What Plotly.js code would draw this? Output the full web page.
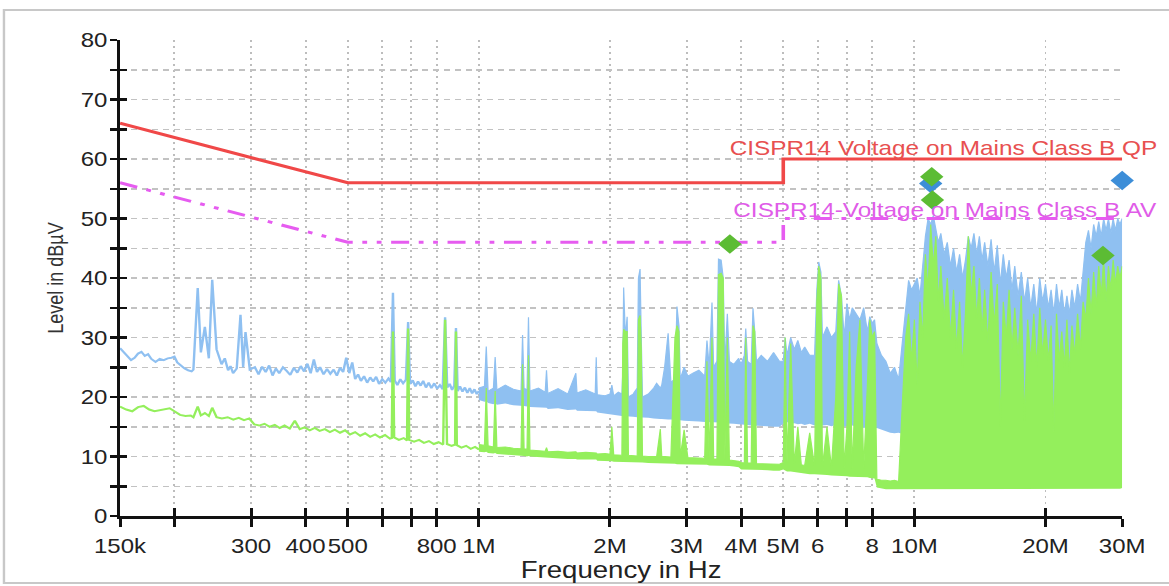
<!DOCTYPE html>
<html><head><meta charset="utf-8">
<script src="https://cdn.plot.ly/plotly-3.0.1.min.js"></script>
<style>
html,body{margin:0;padding:0;background:#fff;overflow:hidden;width:1169px;height:586px}
#wrap{width:974px;height:586px;transform:scaleX(1.2002);transform-origin:0 0}
#chart{width:974px;height:586px}
</style></head>
<body><div id="wrap"><div id="chart"></div></div>
<script>
// ---- axis ticks (frequency in MHz) ----
const xTickVals = [0.15,0.2,0.3,0.4,0.5,0.6,0.7,0.8,1,2,3,4,5,6,7,8,10,20,30];
const xTickText = ['150k','','300','400','500','','','800','1M','2M','3M','4M','5M','6','','8','10M','20M','30M'];
const yTickVals = [0,5,10,15,20,25,30,35,40,45,50,55,60,65,70,75,80];
const yTickText = ['0','','10','','20','','30','','40','','50','','60','','70','','80'];

// ---- limit lines ----
const qpLimitF = [0.15, 0.5, 5, 5, 30];
const qpLimitV = [66, 56, 56, 60, 60];
const avLimitF = [0.15, 0.5, 5, 5, 30];
const avLimitV = [56, 46, 46, 50, 50];

// ---- low band spectrum (150 kHz - 1 MHz), MHz / dBuV ----
const blueLineF = [0.150,0.153,0.156,0.159,0.162,0.165,0.168,0.171,0.174,0.177,
0.181,0.185,0.189,0.193,0.197,0.200,0.203,0.207,0.211,0.215,
0.219,0.2211,0.2262,0.2300,0.2349,0.2399,0.2442,0.2499,0.2566,0.2610,
0.2656,0.2690,0.2727,0.2780,0.2836,0.2876,0.2912,0.2979,0.3060,0.312,
0.318,0.324,0.330,0.336,0.342,0.348,0.355,0.362,0.369,0.376,
0.383,0.390,0.397,0.404,0.411,0.418,0.425,0.432,0.440,0.448,
0.456,0.464,0.472,0.480,0.488,0.496,0.504,0.512,0.520,0.528,
0.536,0.545,0.554,0.563,0.572,0.581,0.590,0.600,0.610,0.620,
0.628,0.635,0.641,0.650,0.660,0.670,0.680,0.688,0.695,0.705,
0.715,0.725,0.735,0.745,0.756,0.767,0.778,0.790,0.802,0.814,
0.826,0.8365,0.846,0.857,0.868,0.878,0.886,0.894,0.905,0.917,
0.929,0.941,0.953,0.965,0.977,0.989,1.000];
const blueLineV = [28.2,27.5,26.8,26.2,26.6,27.3,27.6,26.9,27.2,26.4,
25.9,26.4,26.2,26.5,26.6,26.8,25.8,25.2,24.8,24.5,
24.3,24.6,38.3,27.5,31.8,26.5,39.7,28.0,25.5,26.5,
24.5,25.2,24.0,24.8,33.8,25.0,30.9,24.6,25.0,23.8,
25.1,24.2,25.3,23.6,24.8,24.0,25.0,24.4,23.7,24.9,
24.1,25.2,24.3,25.6,24.0,26.3,24.2,25.0,23.8,24.7,
23.9,24.6,23.6,24.9,24.2,26.6,24.0,25.8,23.0,23.8,
22.7,23.5,22.4,23.3,22.6,23.4,22.2,23.0,22.4,23.1,
22.5,37.5,22.8,22.0,23.0,22.3,22.9,32.6,22.2,22.8,
21.8,22.6,21.9,22.7,21.6,22.4,21.5,22.3,21.4,22.0,
21.3,33.4,21.6,22.2,21.2,21.9,31.6,21.0,21.8,20.9,
21.6,20.7,21.5,20.6,21.3,20.5,21.0];

const greenLineF = [0.150,0.155,0.160,0.165,0.170,0.175,0.180,0.185,0.190,0.195,
0.200,0.206,0.212,0.218,0.2211,0.2262,0.2300,0.2349,0.2399,0.2442,
0.2499,0.257,0.265,0.273,0.281,0.289,0.297,0.305,0.313,0.322,
0.331,0.340,0.349,0.358,0.368,0.378,0.388,0.398,0.409,0.420,
0.431,0.443,0.455,0.467,0.480,0.493,0.506,0.520,0.534,0.548,
0.563,0.578,0.593,0.609,0.625,0.631,0.635,0.639,0.655,0.672,
0.684,0.688,0.692,0.710,0.729,0.748,0.768,0.788,0.808,0.828,
0.8365,0.845,0.866,0.882,0.886,0.890,0.912,0.935,0.958,0.980,
1.000];
const greenLineV = [18.4,17.9,17.6,18.3,18.5,17.9,17.6,17.8,17.9,18.1,
17.6,17.0,16.8,16.9,16.6,18.4,16.9,17.3,16.8,18.2,
16.6,16.4,16.6,16.2,16.5,16.1,16.4,15.4,15.2,15.5,
15.0,15.3,14.8,15.2,14.7,16.0,14.6,14.9,14.4,14.8,
14.3,14.6,14.1,14.5,14.0,14.4,13.7,14.1,13.5,13.9,
13.3,13.7,13.2,13.6,13.0,13.1,31.0,13.2,12.8,13.1,
12.7,31.5,12.8,12.5,12.8,12.3,12.6,12.1,12.4,12.0,
33.0,12.1,11.8,12.0,31.0,11.9,11.5,11.8,11.3,11.6,
11.2];

// ---- 1 MHz - 30 MHz spectrum envelopes (MHz / dBuV) ----
const bandF = [1.00,1.03,1.04,1.05,1.08,1.09,1.10,1.15,1.20,1.25,1.26,1.27,1.29,1.30,1.31,1.37,1.42,1.43,1.44,1.52,1.60,1.67,1.68,1.76,1.85,1.86,1.87,1.95,
2.00,2.02,2.04,2.09,2.13,2.14,2.15,2.17,2.19,2.205,2.26,2.31,2.325,2.345,2.36,2.375,2.45,2.52,2.56,2.61,2.63,2.67,2.72,2.76,2.82,2.85,2.88,2.90,2.96,3.02,
3.10,3.20,3.30,3.34,3.38,3.43,3.46,3.52,3.55,3.60,3.64,3.67,3.72,3.76,3.85,3.95,4.00,4.07,4.10,4.14,4.22,4.26,4.30,4.34,4.45,4.60,4.75,4.90,
5.00,5.05,5.10,5.20,5.30,5.40,5.50,5.60,5.75,5.90,5.97,6.03,6.10,6.15,6.30,6.45,6.60,6.70,6.80,6.90,
7.00,7.10,7.20,7.35,7.50,7.65,7.80,7.90,8.00,8.10,8.20,8.40,8.60,8.80,9.00,9.20,9.40,9.55,9.70,9.85,
10.0,10.15,10.3,10.45,10.6,10.75,10.9,11.05,11.2,11.35,11.5,11.7,11.9,12.1,12.3,12.5,12.7,12.9,13.1,13.3,
13.5,13.7,13.9,14.1,14.3,14.5,14.75,15.0,15.25,15.5,15.75,16.0,16.25,16.5,16.75,17.0,17.3,17.6,17.9,18.2,
18.5,18.8,19.1,19.4,19.7,20.0,20.3,20.6,20.9,21.2,21.5,21.8,22.1,22.4,22.7,23.0,23.35,23.7,24.05,24.4,
24.75,25.1,25.45,25.8,26.15,26.5,26.85,27.2,27.55,27.9,28.25,28.6,28.95,29.3,29.65,30.0];
const blueLo = [19.5,19.2,19.3,19.0,18.8,19.0,18.7,18.9,18.6,18.5,18.6,18.5,18.4,18.5,18.3,18.2,18.1,18.2,18.0,18.1,17.8,17.9,17.7,17.6,17.5,17.6,17.4,17.2,
17.0,17.0,16.9,16.8,16.8,16.8,16.8,16.8,16.8,16.7,16.7,16.6,16.6,16.6,16.6,16.5,16.5,16.4,16.3,16.3,16.3,16.2,16.2,16.2,16.2,16.2,16.1,16.1,16.0,16.0,
16.0,15.9,15.8,15.8,15.8,15.8,15.7,15.7,15.7,15.7,15.6,15.6,15.6,15.5,15.5,15.4,15.4,15.3,15.3,15.3,15.2,15.2,15.2,15.1,15.1,15.1,15.0,15.0,
15.5,15.5,15.8,15.5,15.6,15.4,15.5,15.3,15.5,15.2,15.4,15.3,15.4,15.2,15.3,15.1,15.3,15.4,15.2,15.0,
15.2,15.0,15.2,15.0,15.1,14.8,14.9,14.8,15.0,14.7,14.8,14.5,14.3,14.0,13.9,14.0,13.8,13.5,13.4,13.6,
14,15,14,16,15,17,16,18,17,18,16,17,16,18,17,16,18,17,15,17,
16,18,17,16,18,17,16,18,17,16,17,18,16,17,18,16,17,18,16,17,
18,16,17,15,17,16,18,17,14,17,18,16,17,18,16,17,18,17,16,18,
17,18,17,18,17,18,17,18,17,18,17,18,17,18,17,18];
const blueHi = [21.5,21.8,28.5,21.0,21.5,26.7,21.2,22.0,21.3,21.0,30.4,21.5,21.2,33.4,21.0,21.5,20.8,24.5,20.6,21.4,20.5,24.0,20.7,21.2,20.5,26.7,20.4,20.2,
20.5,22,20.2,20.8,20.5,24,38.4,30,33.5,20,20.5,21.5,40,41.5,30,20,20.5,21.5,22.3,21.5,22,25,30.7,22.5,23,35.2,32,23,25,23.5,
24,24.5,23.5,29.5,25,35.9,25,26,43.2,43,40,25.5,34,26,25.5,26.5,25.5,27,31.5,26,25.5,34.9,31,26,27,26,27.5,26,
26,30,27,30,28,29.5,27.5,28.4,27,27,38,42.7,41,30,31.8,30,31,39.6,37,30,
35.7,33,35,34,33,35,31,33.5,32.4,33,29,27,26,24,25,23,30,36,39.6,38,
39,40,37,42,47,50,49,50.5,48,46,47.5,44,46,42,45,41,44,40,43,47,
45,47.5,44,47,43,46,42,46.5,41,45.5,39,44,40,43,38,42,37,41,36,40,
35,39,34,40,36,39,35,38,34,39,35,38,34,37,34,38,35,39,36,42,
46,48,45,49,47,49.5,47,50,48,50,47.5,50,48,50,49,50];
const greenLo = [10.8,10.7,10.8,10.6,10.5,10.6,10.4,10.3,10.2,10.1,10.2,10.1,10.0,10.1,10.0,9.9,9.8,9.9,9.8,9.7,9.6,9.6,9.5,9.5,9.4,9.5,9.3,9.3,
9.2,9.2,9.1,9.1,9.1,9.1,9.1,9.1,9.1,9.0,9.0,9.0,9.0,9.0,9.0,9.0,8.9,8.9,8.9,8.8,8.8,8.8,8.8,8.8,8.8,8.7,8.7,8.7,8.7,8.7,
8.6,8.6,8.6,8.6,8.5,8.5,8.5,8.5,8.5,8.5,8.5,8.4,8.4,8.4,8.3,8.2,7.8,7.8,7.8,7.8,7.8,7.8,7.7,7.7,7.7,7.7,7.6,7.6,
7.8,7.6,7.5,7.5,7.4,7.3,7.2,7.1,7.0,7.0,7.0,7.0,7.0,6.9,6.9,6.8,6.8,6.8,6.7,6.7,
6.7,6.6,6.6,6.6,6.5,6.5,6.5,6.4,6.4,6.3,4.8,4.6,4.5,4.5,4.5,4.5,4.5,4.5,4.5,4.5,
4.6,4.5,4.6,4.5,4.6,4.5,4.6,4.5,4.6,4.5,4.6,4.5,4.6,4.5,4.6,4.5,4.6,4.5,4.6,4.5,
4.6,4.5,4.6,4.5,4.6,4.5,4.6,4.5,4.6,4.5,4.6,4.5,4.6,4.5,4.6,4.5,4.6,4.5,4.6,4.5,
4.6,4.5,4.6,4.5,4.6,4.5,4.6,4.5,4.6,4.5,4.6,4.5,4.6,4.5,4.6,4.5,4.6,4.5,4.6,4.5,
4.6,4.5,4.6,4.5,4.6,4.5,4.6,4.5,4.6,4.5,4.6,4.5,4.6,4.5,4.6,4.7];
const greenHi = [12.0,11.9,21.5,11.8,11.6,21.0,11.5,11.6,11.4,11.3,25.5,11.3,11.2,27.0,11.1,11.0,10.9,11.5,10.8,10.9,10.7,10.8,10.6,10.7,10.5,10.6,10.4,10.5,
10.4,15,10.3,10.3,10.2,29,31.4,31,31,10.2,10.2,10.1,33,33.7,28,10.1,10.0,10.0,10.0,14.6,10.0,10.0,10.0,9.9,30,32,31,9.9,14.5,9.8,
9.8,9.7,9.7,26,9.7,30,9.6,9.6,40.6,40.8,40,9.5,30,9.4,9.3,9.2,9.0,8.9,30,8.9,8.9,32,31,8.8,8.8,8.8,8.7,8.7,
9.0,30,9.0,29,8.7,15,8.6,8.5,14,8.4,36,42,40,8.3,15,8.2,20,39,37,8.0,
15,31,8.0,25,33,8.0,22,33,30,31,6.2,6.0,6.0,5.9,6.0,5.8,20,30,34,26,
33,22,36,30,44,38,49,42,47,36,42,33,40,30,38,28,36,25,34,47,
37,42,33,40,31,38,29,41,32,39,15,36,30,38,28,35,27,37,16,33,
26,34,25,35,27,33,26,32,14,34,26,31,25,33,24,32,27,34,28,36,
33,40,34,41,35,42,37,43,36,42,38,43,39,42,40,42];

// ---- final measurement markers ----
const qpMarkF = [10.9, 30];
const qpMarkV = [55.9, 56.4];
const avMarkF = [3.77, 10.96, 11.0, 27.1];
const avMarkV = [45.7, 57.0, 53.1, 43.8];

const BLUE = '#8fc0f1', GREEN = '#94ef5c';

const traces = [
  {x: bandF, y: blueLo, mode:'lines', line:{width:0, color:BLUE}, hoverinfo:'skip'},
  {x: bandF, y: blueHi, mode:'lines', fill:'tonexty', fillcolor:BLUE, line:{width:1, color:BLUE}, hoverinfo:'skip'},
  {x: blueLineF, y: blueLineV, mode:'lines', line:{width:2, color:BLUE}},
  {x: bandF, y: greenLo, mode:'lines', line:{width:0, color:GREEN}, hoverinfo:'skip'},
  {x: bandF, y: greenHi, mode:'lines', fill:'tonexty', fillcolor:GREEN, line:{width:1, color:GREEN}, hoverinfo:'skip'},
  {x: greenLineF, y: greenLineV, mode:'lines', line:{width:2, color:GREEN}},
  {x: qpLimitF, y: qpLimitV, mode:'lines', line:{width:3, color:'#f04848'}},
  {x: avLimitF, y: avLimitV, mode:'lines', line:{width:3, color:'#e65cf0', dash:'15px,8px,4px,8px,4px,8px'}},
  {x: qpMarkF, y: qpMarkV, mode:'markers', cliponaxis:false, marker:{symbol:'diamond', size:15, color:'#3d8ed8', line:{width:0}}},
  {x: avMarkF, y: avMarkV, xaxis:'x2', yaxis:'y2', mode:'markers', cliponaxis:false, marker:{symbol:'diamond', size:15, color:'#5cbc34', line:{width:0}}}
];

const FONT = 'Liberation Sans, Arial, Helvetica, sans-serif';
const XR = [Math.log10(0.15), Math.log10(30)];
const layout = {
  width: 974, height: 586,
  margin: {l:100, r:39, t:40, b:70},
  paper_bgcolor:'#fff', plot_bgcolor:'#fff',
  showlegend:false, hovermode:false,
  font:{family:FONT, color:'#1a1a1a'},
  xaxis:{type:'log', range:XR, tickmode:'array', tickangle:0,
    tickvals:xTickVals, ticktext:xTickText, ticks:'outside', ticklen:8, tickwidth:2.5, tickcolor:'#111',
    showline:true, linecolor:'#111', linewidth:2.5, showgrid:true, gridcolor:'#bdbdbd', griddash:'2px,4px', gridwidth:1.6,
    zeroline:false, tickfont:{size:20, family:FONT, color:'#222'}, ticklabelstandoff:3,
    title:{text:'Frequency in Hz', font:{size:23, family:FONT, color:'#222'}, standoff:2}},
  xaxis2:{type:'log', range:XR, overlaying:'x', anchor:'y2', side:'bottom',
    tickmode:'array', tickvals:xTickVals, ticks:'inside', ticklen:8, tickwidth:2.5, tickcolor:'#111',
    showticklabels:false, showgrid:false, showline:false, zeroline:false},
  yaxis:{range:[0,80], tickmode:'array', tickvals:yTickVals, ticktext:yTickText, ticks:'outside', ticklen:6, tickwidth:2.5, tickcolor:'#111',
    showline:true, linecolor:'#111', linewidth:2.5, showgrid:true, gridcolor:'#c2c2c2', griddash:'5px,4px', gridwidth:1.5,
    zeroline:false, tickfont:{size:20, family:FONT, color:'#222'}, ticklabelstandoff:-2,
    title:{text:'Level in dBµV', font:{size:18, family:FONT, color:'#333'}, standoff:10}},
  yaxis2:{range:[0,80], overlaying:'y', anchor:'x2', side:'left', tickmode:'array', tickvals:yTickVals,
    ticks:'inside', ticklen:6, tickwidth:2.5, tickcolor:'#111', showticklabels:false, showgrid:false, showline:false, zeroline:false},
  annotations:[
    {xref:'x', yref:'y', x:Math.log10(3.73), y:61.9, xanchor:'left', yanchor:'middle', showarrow:false,
     text:'CISPR14 Voltage on Mains Class B QP', font:{size:20.3, family:FONT, color:'#e85050'}},
    {xref:'x', yref:'y', x:Math.log10(3.80), y:51.4, xanchor:'left', yanchor:'middle', showarrow:false,
     text:'CISPR14-Voltage on Mains Class B AV', font:{size:20.3, family:FONT, color:'#e05ce8'}}
  ],
  shapes:[
    {type:'rect', xref:'paper', yref:'paper', x0:-0.1158, x1:1.07, y0:-0.1408, y1:1.063, layer:'below',
     line:{color:'#c8c8c8', width:2}, fillcolor:'rgba(0,0,0,0)'}
  ]
};

Plotly.newPlot('chart', traces, layout, {displayModeBar:false, staticPlot:true});
</script>
</body></html>
